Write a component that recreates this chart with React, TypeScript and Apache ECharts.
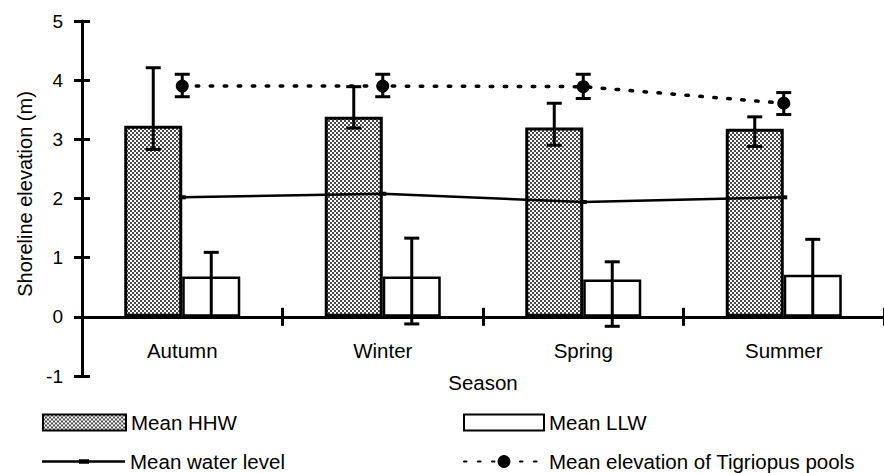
import React, { useEffect, useRef } from 'react';
import * as echarts from 'echarts';

const seasons = ['Autumn', 'Winter', 'Spring', 'Summer'];
const hhwMean = [3.23, 3.38, 3.2, 3.18];
const hhwLow = [2.83, 3.19, 2.9, 2.88];
const hhwHigh = [4.21, 3.89, 3.61, 3.38];
const llwMean = [0.68, 0.68, 0.63, 0.71];
const llwLow = [0.0, -0.12, -0.16, 0.0];
const llwHigh = [1.09, 1.33, 0.93, 1.31];
const waterLevel = [2.02, 2.08, 1.94, 2.02];
const poolMean = [3.9, 3.9, 3.89, 3.61];
const poolLow = [3.72, 3.72, 3.69, 3.42];
const poolHigh = [4.1, 4.1, 4.1, 3.79];
const yMin = -1;
const yMax = 5;
const yStep = 1;

const BAR_W = 58;
const FONT = 'Liberation Sans, Arial, Helvetica, sans-serif';

function makePattern() {
  const c = document.createElement('canvas');
  c.width = 4;
  c.height = 4;
  const ctx = c.getContext('2d')!;
  ctx.fillStyle = '#ffffff';
  ctx.fillRect(0, 0, 4, 4);
  ctx.fillStyle = '#4a4a4a';
  ctx.fillRect(0, 0, 2, 2);
  ctx.fillRect(2, 2, 2, 2);
  return { image: c, repeat: 'repeat', imageWidth: 4, imageHeight: 4 } as any;
}

function errorRenderer(offset: number, capW: number) {
  return (params: any, api: any) => {
    const idx = api.value(0);
    const lo = api.coord([idx, api.value(1)]);
    const hi = api.coord([idx, api.value(2)]);
    const x = lo[0] + offset;
    const st = { stroke: '#000', lineWidth: 3 };
    return {
      type: 'group',
      children: [
        { type: 'line', shape: { x1: x, y1: lo[1], x2: x, y2: hi[1] }, style: st },
        { type: 'line', shape: { x1: x - capW / 2, y1: lo[1], x2: x + capW / 2, y2: lo[1] }, style: st },
        { type: 'line', shape: { x1: x - capW / 2, y1: hi[1], x2: x + capW / 2, y2: hi[1] }, style: st },
      ],
    };
  };
}

export default function App() {
  const ref = useRef<HTMLDivElement>(null);
  useEffect(() => {
    const chart = echarts.init(ref.current!, null, { renderer: 'svg' });
    const pattern = makePattern();
    const textStyle = { fontFamily: FONT, fontSize: 20.5, color: '#000' };
    const legendBase = { padding: 0, selectedMode: false, textStyle, itemGap: 0 };
    chart.setOption({
      animation: false,
      textStyle: { fontFamily: FONT },
      grid: { left: 82, right: -3, top: 21, bottom: 97, containLabel: false },
      legend: [
        { ...legendBase, data: [{ name: 'Mean HHW', icon: 'rect' }], left: 42, top: 412, itemWidth: 83, itemHeight: 16 },
        { ...legendBase, data: [{ name: 'Mean LLW', icon: 'rect' }], left: 463, top: 412, itemWidth: 80, itemHeight: 16 },
        {
          ...legendBase,
          data: [{ name: 'Mean water level', icon: 'path://M0,1L83,1L83,3.5L0,3.5Z M37,0L47,0L47,4.5L37,4.5Z' }],
          left: 42, top: 451, itemWidth: 83, itemHeight: 5,
        },
        { ...legendBase, data: [{ name: 'Mean elevation of Tigriopus pools' }], left: 463, top: 451, itemWidth: 80, itemHeight: 16 },
      ],
      xAxis: [
        {
          type: 'category',
          data: seasons,
          boundaryGap: true,
          axisLine: { show: true, onZero: true, lineStyle: { color: '#000', width: 3 } },
          axisTick: { show: true, length: 9, lineStyle: { color: '#000', width: 3 } },
          axisLabel: { fontSize: 20.5, color: '#000', margin: -36, fontFamily: FONT },
          name: 'Season',
          nameLocation: 'middle',
          nameGap: -4,
          nameTextStyle: { fontSize: 20.5, color: '#000', fontFamily: FONT },
          splitLine: { show: false },
        },
        {
          type: 'category',
          data: seasons,
          position: 'bottom',
          boundaryGap: true,
          axisLine: { show: false, onZero: true },
          axisTick: { show: true, inside: true, length: 9, lineStyle: { color: '#000', width: 3 } },
          axisLabel: { show: false },
          splitLine: { show: false },
        },
      ],
      yAxis: [
        {
          type: 'value',
          min: yMin,
          max: yMax,
          interval: yStep,
          position: 'left',
          axisLine: { show: true, lineStyle: { color: '#000', width: 3 } },
          axisTick: { show: true, length: 8, lineStyle: { color: '#000', width: 3 } },
          axisLabel: { fontSize: 19, color: '#000', margin: 19, fontFamily: FONT },
          splitLine: { show: false },
          name: 'Shoreline elevation (m)',
          nameLocation: 'middle',
          nameGap: 46,
          nameTextStyle: { fontSize: 20, color: '#000', fontFamily: FONT, padding: [0, 0, 0, 9] },
        },
        {
          type: 'value',
          min: yMin,
          max: yMax,
          interval: yStep,
          position: 'left',
          axisLine: { show: false },
          axisTick: { show: true, inside: true, length: 8, lineStyle: { color: '#000', width: 3 } },
          axisLabel: { show: false },
          splitLine: { show: false },
        },
      ],
      series: [
        {
          name: 'Mean HHW',
          type: 'bar',
          data: hhwMean,
          barWidth: BAR_W,
          barGap: '0%',
          itemStyle: { color: pattern, borderColor: '#000', borderWidth: 3 },
          z: 2,
        },
        {
          name: 'Mean LLW',
          type: 'bar',
          data: llwMean,
          barWidth: BAR_W,
          barGap: '0%',
          itemStyle: { color: '#fff', borderColor: '#000', borderWidth: 2.5 },
          z: 2,
        },
        {
          name: 'hhwErr',
          type: 'custom',
          data: seasons.map((_, i) => [i, hhwLow[i], hhwHigh[i]]),
          encode: { x: 0, y: [1, 2] },
          renderItem: errorRenderer(-BAR_W / 2, 15),
          z: 3,
        },
        {
          name: 'llwErr',
          type: 'custom',
          data: seasons.map((_, i) => [i, llwLow[i], llwHigh[i]]),
          encode: { x: 0, y: [1, 2] },
          renderItem: errorRenderer(BAR_W / 2, 15),
          z: 3,
        },
        {
          name: 'Mean water level',
          type: 'line',
          data: waterLevel,
          symbol: 'rect',
          symbolSize: [7, 4],
          lineStyle: { color: '#000', width: 2.5 },
          itemStyle: { color: '#000' },
          z: 4,
        },
        {
          name: 'Mean elevation of Tigriopus pools',
          type: 'line',
          data: poolMean,
          symbol: 'circle',
          symbolSize: 13,
          lineStyle: { color: '#000', width: 3.5, type: [2.5, 11.5], cap: 'round' },
          itemStyle: { color: '#000' },
          z: 5,
        },
        {
          name: 'poolErr',
          type: 'custom',
          data: seasons.map((_, i) => [i, poolLow[i], poolHigh[i]]),
          encode: { x: 0, y: [1, 2] },
          renderItem: errorRenderer(0, 15),
          z: 5,
        },
      ],
    });
    return () => chart.dispose();
  }, []);
  return (
    <div
      ref={ref}
      style={{ position: 'absolute', left: 0, top: 0, width: 884, height: 473, background: '#fff' }}
    />
  );
}
